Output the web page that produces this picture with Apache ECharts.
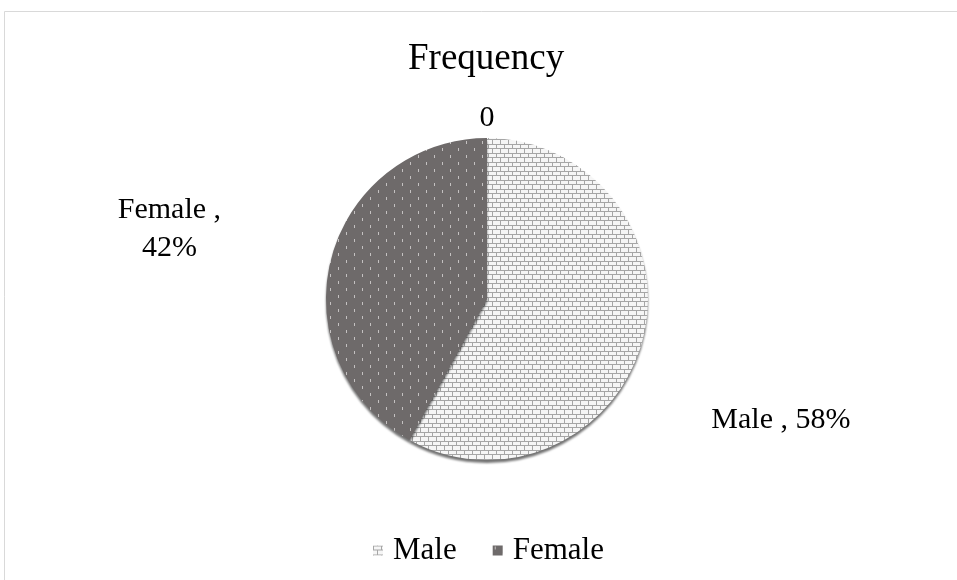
<!DOCTYPE html>
<html>
<head>
<meta charset="utf-8">
<script src="https://cdn.jsdelivr.net/npm/echarts@6/dist/echarts.min.js"></script>
<style>
  html, body { margin: 0; padding: 0; background: #fff; }
  #main { width: 957px; height: 580px; }
</style>
</head>
<body>
<div id="main"></div>
<script>
// data
const categories = ['Male', 'Female', ''];
const values = [58, 42, 0];
const labelTexts = ['Male , 58%', 'Female ,\n42%', '0'];

// brick pattern for Male
function brickPattern() {
  const c = document.createElement('canvas');
  c.width = 16; c.height = 9;
  const g = c.getContext('2d');
  g.fillStyle = '#f6f6f6';
  g.fillRect(0, 0, 16, 9);
  g.fillStyle = '#a6a6a6';
  g.fillRect(0, 0, 16, 1);
  g.fillRect(0, 4, 16, 1);
  g.fillRect(0, 0, 1, 4);
  g.fillRect(8, 0, 1, 4);
  g.fillRect(4, 4, 1, 5);
  g.fillRect(12, 4, 1, 5);
  return c;
}
// dotted pattern for Female
function dotPattern() {
  const c = document.createElement('canvas');
  c.width = 16; c.height = 14;
  const g = c.getContext('2d');
  g.fillStyle = '#6e6a6a';
  g.fillRect(0, 0, 16, 14);
  g.fillStyle = '#c4c1c1';
  g.fillRect(2, 1, 1, 3);
  g.fillRect(10, 8, 1, 3);
  return c;
}

const colors = [
  { image: brickPattern(), repeat: 'repeat' },
  { image: dotPattern(), repeat: 'repeat' },
  '#6e6a6a'
];

// label anchor points (fractions of chart size)
const labelPos = [[0.816, 0.724], [0.177, 0.395], [0.509, 0.203]];

const chart = echarts.init(document.getElementById('main'));
const option = {
  backgroundColor: '#fff',
  animation: false,
  title: {
    text: 'Frequency',
    left: 408,
    top: 41,
    padding: 0,
    textStyle: { fontFamily: 'Liberation Serif', fontSize: 37, fontWeight: 'normal', color: '#000' }
  },
  legend: {
    data: ['Male', 'Female'],
    top: 530,
    left: 368,
    itemWidth: 10,
    itemHeight: 10,
    itemGap: 36,
    icon: 'rect',
    textStyle: { fontFamily: 'Liberation Serif', fontSize: 31, color: '#000', padding: [0, 0, 0, 5] }
  },
  graphic: [{
    type: 'rect',
    shape: { x: 4.5, y: 11.5, width: 980, height: 600 },
    style: { fill: 'none', stroke: '#d9d9d9', lineWidth: 1 },
    silent: true
  }],
  series: [{
    type: 'pie',
    center: [487, 299],
    radius: 161,
    startAngle: 90,
    clockwise: true,
    avoidLabelOverlap: false,
    data: categories.map((n, i) => ({
      name: n,
      value: values[i],
      itemStyle: { color: colors[i] }
    })),
    itemStyle: {
      borderWidth: 0,
      shadowColor: 'rgba(0,0,0,0.55)',
      shadowOffsetY: 3,
      shadowBlur: 2
    },
    label: {
      show: true,
      position: 'outside',
      formatter: p => labelTexts[p.dataIndex],
      fontFamily: 'Liberation Serif',
      fontSize: 30,
      lineHeight: 38,
      color: '#000',
      align: 'center'
    },
    labelLine: { show: false },
    labelLayout: function (p) {
      const pos = labelPos[p.dataIndex];
      return {
        x: pos[0] * chart.getWidth(),
        y: pos[1] * chart.getHeight(),
        align: 'center',
        verticalAlign: 'middle'
      };
    },
    emphasis: { disabled: true }
  }]
};
chart.setOption(option);
</script>
</body>
</html>
